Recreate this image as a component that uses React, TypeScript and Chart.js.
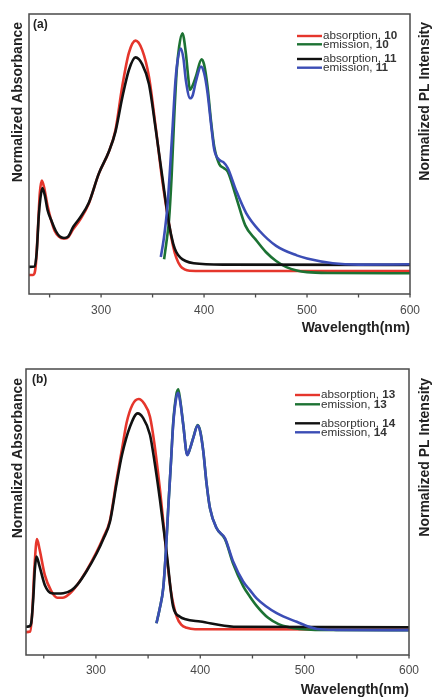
import React, { useEffect, useRef } from "react";
import { Chart, registerables } from "chart.js";

Chart.register(...registerables);

const FONT = "'Liberation Sans', Arial, Helvetica, sans-serif";

// Axis ticks (nm)
const xTickValues = [300, 400, 500, 600];
const xMinorTicks = [250, 350, 450, 550];

// Series colours
const RED = "#e5362c";
const GREEN = "#1c7233";
const BLACK = "#111111";
const BLUE = "#3b4db5";

// ---------- Panel (a) ----------
const absA10Nm = [230, 234, 236.5, 238.5, 240.5, 242.5, 245, 248, 251, 255, 259, 263, 267, 273, 280, 288, 297.8, 307.5, 314, 320.5, 327, 333.5, 340, 346.5, 353, 359.4, 366, 370, 373, 377, 381, 386, 400, 600];
const absA10Val = [0.068, 0.068, 0.1, 0.22, 0.36, 0.405, 0.375, 0.315, 0.27, 0.225, 0.205, 0.198, 0.2, 0.232, 0.268, 0.322, 0.43, 0.508, 0.586, 0.74, 0.861, 0.905, 0.871, 0.776, 0.597, 0.407, 0.25, 0.17, 0.13, 0.1, 0.088, 0.083, 0.082, 0.082];

const emA10Nm = [361.2, 364, 366, 368.5, 371, 373.5, 375.8, 379, 382.3, 384.5, 386.2, 389, 392, 397.6, 400, 403.4, 407, 410, 414.8, 419, 423, 431, 440, 450, 460, 470, 480, 490, 500, 520, 600];
const emA10Val = [0.124, 0.2, 0.265, 0.42, 0.63, 0.8, 0.883, 0.931, 0.861, 0.78, 0.729, 0.745, 0.776, 0.838, 0.82, 0.74, 0.61, 0.524, 0.464, 0.45, 0.437, 0.348, 0.245, 0.195, 0.15, 0.118, 0.096, 0.084, 0.078, 0.075, 0.074];

const absA11Nm = [230, 235.5, 237.5, 239.5, 241, 243, 245.5, 248, 252, 256, 260, 264, 268, 273, 280, 288, 297.8, 307.5, 314, 320.5, 327, 333.5, 340, 346.5, 353, 359.4, 366, 370, 373, 377, 382, 390, 420, 600];
const absA11Val = [0.097, 0.098, 0.15, 0.28, 0.34, 0.378, 0.35, 0.3, 0.26, 0.225, 0.205, 0.2, 0.205, 0.24, 0.275, 0.325, 0.43, 0.508, 0.58, 0.7, 0.8, 0.845, 0.82, 0.75, 0.59, 0.42, 0.25, 0.18, 0.15, 0.13, 0.118, 0.11, 0.105, 0.104];

const emA11Nm = [358, 361, 364.4, 367, 369.3, 372, 374, 377.5, 380, 382.3, 386.5, 389, 392, 397, 400, 403.4, 407, 410, 414.8, 419, 423, 431, 440.9, 454, 470, 490, 500, 525, 550, 600];
const emA11Val = [0.132, 0.2, 0.312, 0.45, 0.586, 0.75, 0.825, 0.877, 0.84, 0.764, 0.699, 0.71, 0.758, 0.812, 0.79, 0.718, 0.6, 0.514, 0.479, 0.47, 0.45, 0.371, 0.289, 0.225, 0.172, 0.138, 0.127, 0.11, 0.105, 0.106];

// ---------- Panel (b) ----------
const absB13Nm = [233, 237, 239, 241, 243.5, 246, 251, 257, 263, 268, 275, 282, 291, 300.6, 307, 313.4, 319.8, 325, 329.4, 335, 341, 346, 351.8, 356, 361.4, 365, 368, 372, 377.4, 382, 387, 395, 600];
const absB13Val = [0.08, 0.082, 0.15, 0.3, 0.405, 0.37, 0.28, 0.225, 0.2, 0.2, 0.215, 0.245, 0.295, 0.36, 0.41, 0.47, 0.612, 0.72, 0.812, 0.875, 0.895, 0.88, 0.833, 0.74, 0.577, 0.45, 0.34, 0.22, 0.134, 0.105, 0.095, 0.09, 0.089];

const emB13Nm = [358, 361, 364.5, 367, 369.3, 372, 374, 377, 378.9, 381, 383.7, 387.5, 390, 393.3, 397.5, 400, 402.9, 406, 409.3, 415.7, 423.7, 431.6, 441.2, 447.6, 454, 465, 475, 485, 495, 510, 600];
const emB13Val = [0.111, 0.16, 0.234, 0.36, 0.514, 0.68, 0.81, 0.91, 0.929, 0.885, 0.805, 0.7, 0.72, 0.76, 0.804, 0.782, 0.712, 0.6, 0.513, 0.443, 0.405, 0.318, 0.24, 0.204, 0.172, 0.13, 0.108, 0.097, 0.091, 0.088, 0.087];

const absB14Nm = [233, 236, 238, 240, 241.5, 243, 246, 251, 257.5, 263, 268.7, 276.7, 282, 291, 300.6, 307, 313.4, 319.8, 325, 332.6, 340, 345, 351.8, 356, 361.4, 367.8, 374, 380.5, 386, 400, 432, 600];
const absB14Val = [0.099, 0.1, 0.112, 0.2, 0.3, 0.344, 0.31, 0.245, 0.216, 0.215, 0.216, 0.227, 0.245, 0.293, 0.355, 0.405, 0.465, 0.6, 0.7, 0.798, 0.845, 0.83, 0.77, 0.68, 0.542, 0.356, 0.169, 0.134, 0.125, 0.117, 0.099, 0.097];

const emB14Nm = [358, 361, 364.5, 367, 369.3, 372, 374, 377, 378.9, 381, 383.7, 387.5, 390, 393.3, 397.5, 400, 402.9, 406, 409.3, 415.7, 423.7, 431.6, 441.2, 447.6, 454, 473.2, 492.4, 512, 530, 600];
const emB14Val = [0.111, 0.16, 0.234, 0.36, 0.514, 0.68, 0.804, 0.9, 0.917, 0.88, 0.804, 0.699, 0.72, 0.759, 0.802, 0.78, 0.711, 0.6, 0.513, 0.443, 0.408, 0.326, 0.256, 0.227, 0.198, 0.146, 0.116, 0.091, 0.088, 0.087];

const toPoints = (xs: number[], ys: number[]) => xs.map((x, i) => ({ x, y: ys[i] }));

const decorPlugin = {
  id: "decor",
  afterDatasetsDraw(chart: any, _args: any, opts: any) {
    const { ctx, chartArea: a, scales } = chart;
    const xs = scales.x;
    ctx.save();
    // frame
    ctx.strokeStyle = "#4a4a4a";
    ctx.lineWidth = 1.5;
    ctx.strokeRect(a.left, a.top, a.right - a.left, a.bottom - a.top);
    // tick marks (outward)
    ctx.lineWidth = 1.3;
    [...xTickValues, ...xMinorTicks].forEach((v) => {
      const px = xs.getPixelForValue(v);
      ctx.beginPath();
      ctx.moveTo(px, a.bottom);
      ctx.lineTo(px, a.bottom + 3.5);
      ctx.stroke();
    });
    // panel label
    ctx.fillStyle = "#222";
    ctx.font = `bold 12px ${FONT}`;
    ctx.textBaseline = "middle";
    ctx.textAlign = "left";
    ctx.fillText(opts.panel, a.left + opts.panelDx, a.top + 11);
    // legend
    chart.data.datasets.forEach((ds: any, i: number) => {
      const y = a.top + opts.rows[i];
      ctx.strokeStyle = ds.borderColor;
      ctx.lineWidth = 2.4;
      ctx.beginPath();
      ctx.moveTo(opts.legendX, y);
      ctx.lineTo(opts.legendX + 25, y);
      ctx.stroke();
      const parts = String(ds.label).split(", ");
      const t1 = parts[0] + ", ";
      ctx.save();
      ctx.translate(opts.legendX + 26, y + 0.5);
      ctx.scale(1.17, 1);
      ctx.fillStyle = "#333";
      ctx.font = `10px ${FONT}`;
      ctx.fillText(t1, 0, 0);
      const w = ctx.measureText(t1).width;
      ctx.font = `bold 10px ${FONT}`;
      ctx.fillText(parts[1], w, 0);
      ctx.restore();
    });
    // y titles
    ctx.fillStyle = "#222";
    ctx.font = `bold 14px ${FONT}`;
    ctx.textAlign = "right";
    ctx.textBaseline = "middle";
    ctx.save();
    ctx.translate(18, a.top + opts.titleDy);
    ctx.rotate(-Math.PI / 2);
    ctx.fillText("Normalized Absorbance", 0, 0);
    ctx.restore();
    ctx.save();
    ctx.translate(425, a.top + opts.titleDy);
    ctx.rotate(-Math.PI / 2);
    ctx.fillText("Normalized PL Intensity", 0, 0);
    ctx.restore();
    ctx.restore();
  },
};

type PanelProps = {
  top: number;
  height: number;
  xMin: number;
  padLeft: number;
  padRight: number;
  padTop: number;
  axisHeight: number;
  tickPad: number;
  titlePad: number;
  panel: string;
  panelDx: number;
  legendX: number;
  rows: number[];
  titleDy: number;
  series: { label: string; color: string; nm: number[]; val: number[]; axis: string; order: number }[];
};

function Panel(p: PanelProps) {
  const ref = useRef<HTMLCanvasElement | null>(null);
  useEffect(() => {
    if (!ref.current) return;
    const chart = new Chart(ref.current, {
      type: "line",
      data: {
        datasets: p.series.map((s) => ({
          label: s.label,
          data: toPoints(s.nm, s.val),
          borderColor: s.color,
          backgroundColor: s.color,
          borderWidth: 2.6,
          pointRadius: 0,
          fill: false,
          cubicInterpolationMode: "monotone" as const,
          yAxisID: s.axis,
          order: s.order,
        })),
      },
      options: {
        responsive: false,
        animation: false,
        events: [],
        layout: { padding: { left: p.padLeft, right: p.padRight, top: p.padTop, bottom: 0 } },
        plugins: {
          legend: { display: false },
          tooltip: { enabled: false },
          decor: { panel: p.panel, panelDx: p.panelDx, legendX: p.legendX, rows: p.rows, titleDy: p.titleDy },
        } as any,
        scales: {
          x: {
            type: "linear",
            min: p.xMin,
            max: 600,
            afterBuildTicks: (s: any) => {
              s.ticks = xTickValues.map((v) => ({ value: v }));
            },
            afterFit: (s: any) => {
              s.height = p.axisHeight;
            },
            grid: { display: false, drawTicks: false },
            border: { display: false },
            ticks: { padding: p.tickPad, color: "#4a4a4a", font: { size: 12, family: FONT } },
            title: {
              display: true,
              text: "Wavelength(nm)",
              align: "end",
              color: "#222",
              font: { size: 14, weight: "bold", family: FONT, lineHeight: 1 },
              padding: { top: 0, bottom: p.titlePad },
            },
          },
          y: { min: 0, max: 1, display: false },
          y1: { min: 0, max: 1, display: false, position: "right" },
        },
      } as any,
      plugins: [decorPlugin as any],
    });
    return () => chart.destroy();
  }, []);
  return (
    <canvas
      ref={ref}
      width={433}
      height={p.height}
      style={{ position: "absolute", left: 0, top: p.top, width: 433, height: p.height, display: "block" }}
    />
  );
}

const seriesA = [
  { label: "absorption, 10", color: RED, nm: absA10Nm, val: absA10Val, axis: "y", order: 4 },
  { label: "emission, 10", color: GREEN, nm: emA10Nm, val: emA10Val, axis: "y1", order: 3 },
  { label: "absorption, 11", color: BLACK, nm: absA11Nm, val: absA11Val, axis: "y", order: 2 },
  { label: "emission, 11", color: BLUE, nm: emA11Nm, val: emA11Val, axis: "y1", order: 1 },
];

const seriesB = [
  { label: "absorption, 13", color: RED, nm: absB13Nm, val: absB13Val, axis: "y", order: 4 },
  { label: "emission, 13", color: GREEN, nm: emB13Nm, val: emB13Val, axis: "y1", order: 3 },
  { label: "absorption, 14", color: BLACK, nm: absB14Nm, val: absB14Val, axis: "y", order: 2 },
  { label: "emission, 14", color: BLUE, nm: emB14Nm, val: emB14Val, axis: "y1", order: 1 },
];

export default function App() {
  return (
    <div style={{ position: "absolute", left: 0, top: 0, width: 433, height: 697, background: "#fff", overflow: "hidden" }}>
      <Panel
        top={0}
        height={340}
        xMin={230}
        padLeft={29}
        padRight={23}
        padTop={14}
        axisHeight={46}
        tickPad={9}
        titlePad={5}
        panel="(a)"
        panelDx={4}
        legendX={297}
        rows={[22, 30.3, 45, 53.7]}
        titleDy={8}
        series={seriesA}
      />
      <Panel
        top={340}
        height={357}
        xMin={233}
        padLeft={26}
        padRight={24}
        padTop={29}
        axisHeight={42}
        tickPad={8}
        titlePad={0}
        panel="(b)"
        panelDx={6}
        legendX={295}
        rows={[26, 35.3, 54.3, 63.3]}
        titleDy={9}
        series={seriesB}
      />
    </div>
  );
}
